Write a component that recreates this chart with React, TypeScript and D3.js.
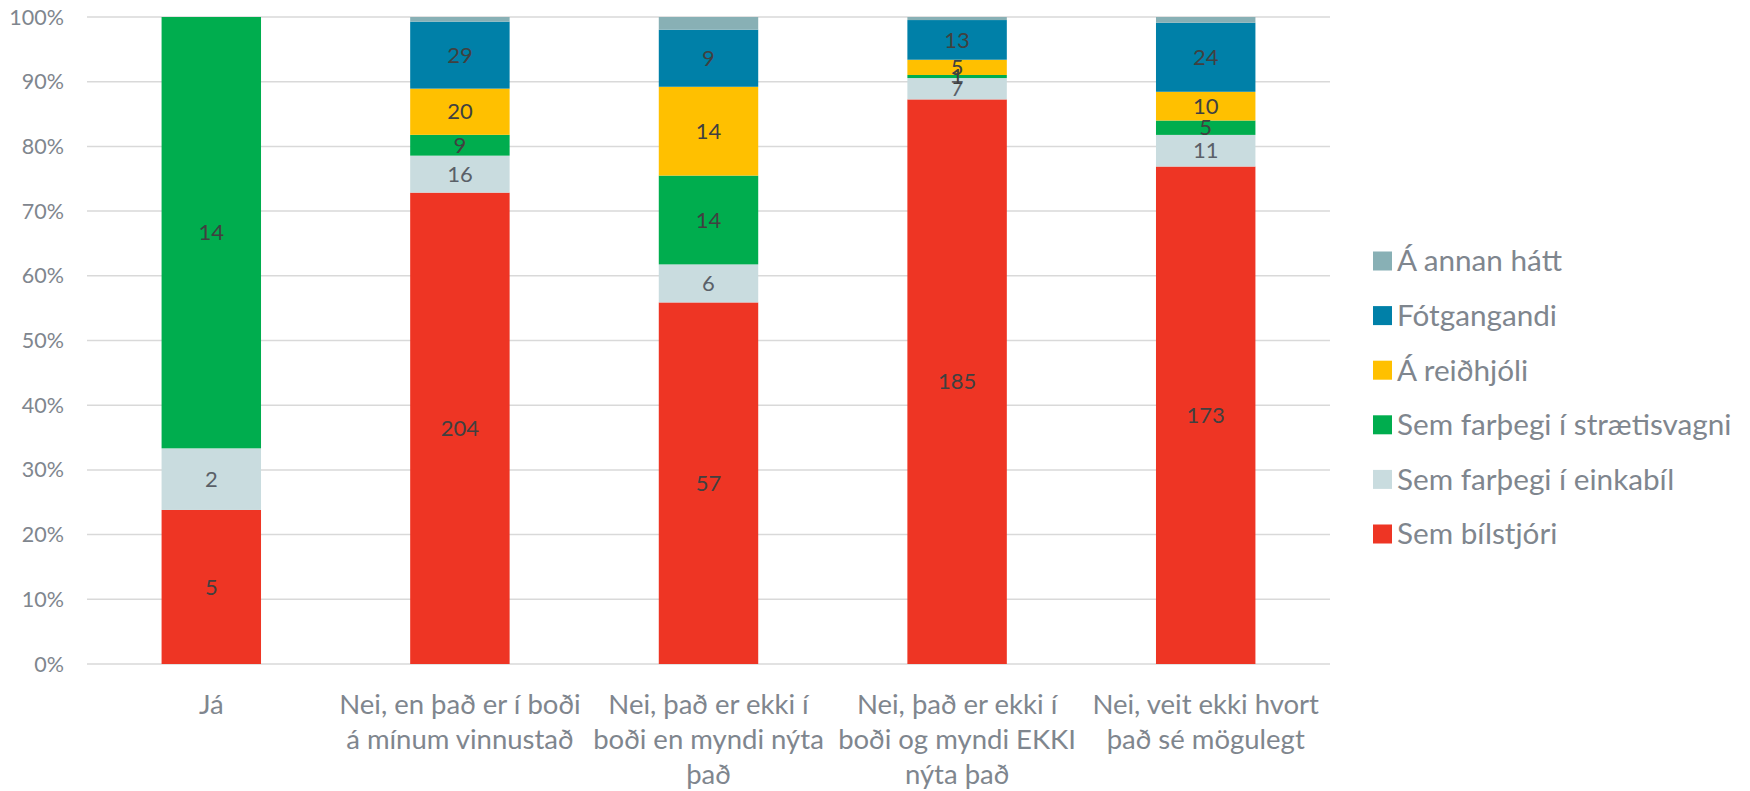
import React, { useEffect, useRef } from 'react';
import * as d3 from 'd3';

// categories (x axis) and their wrapped label lines
const categories = [
  'Já',
  'Nei, en það er í boði á mínum vinnustað',
  'Nei, það er ekki í boði en myndi nýta það',
  'Nei, það er ekki í boði og myndi EKKI nýta það',
  'Nei, veit ekki hvort það sé mögulegt',
];
const categoryLines = [
  ['Já'],
  ['Nei, en það er í boði', 'á mínum vinnustað'],
  ['Nei, það er ekki í', 'boði en myndi nýta', 'það'],
  ['Nei, það er ekki í', 'boði og myndi EKKI', 'nýta það'],
  ['Nei, veit ekki hvort', 'það sé mögulegt'],
];

// series, bottom of the stack first
const seriesNames = [
  'Sem bílstjóri',
  'Sem farþegi í einkabíl',
  'Sem farþegi í strætisvagni',
  'Á reiðhjóli',
  'Fótgangandi',
  'Á annan hátt',
];
const bilstjori = [5, 204, 57, 185, 173];
const einkabil = [2, 16, 6, 7, 11];
const straeto = [14, 9, 14, 1, 5];
const reidhjol = [0, 20, 14, 5, 10];
const fotgangandi = [0, 29, 9, 13, 24];
const annad = [0, 2, 2, 1, 2];
const seriesValues = [bilstjori, einkabil, straeto, reidhjol, fotgangandi, annad];
const seriesColors = ['#EE3524', '#C9DCDF', '#00AD4E', '#FFC000', '#0080A8', '#88B0B5'];
// the chart shows no value labels on "Á annan hátt"
const showLabels = [true, true, true, true, true, false];

const tickValues = [0, 0.1, 0.2, 0.3, 0.4, 0.5, 0.6, 0.7, 0.8, 0.9, 1];
const tickLabels = ['0%', '10%', '20%', '30%', '40%', '50%', '60%', '70%', '80%', '90%', '100%'];

const WIDTH = 1750;
const HEIGHT = 791;
const FONT = 'Lato, "Open Sans", sans-serif';

export default function App() {
  const ref = useRef<SVGSVGElement>(null);

  useEffect(() => {
    const svg = d3.select(ref.current);
    svg.selectAll('*').remove();

    const left = 87, right = 1330, top = 17, bottom = 664;

    const rows = categories.map((c, i) => {
      const r: any = { category: c };
      seriesNames.forEach((s, j) => (r[s] = seriesValues[j][i]));
      return r;
    });

    const stacked = d3.stack().keys(seriesNames).offset(d3.stackOffsetExpand)(rows);

    const x = d3.scaleBand().domain(categories).range([left, right]).paddingInner(0.6).paddingOuter(0.3);
    const y = d3.scaleLinear().domain([0, 1]).range([bottom, top]);

    // gridlines
    svg.append('g')
      .selectAll('line')
      .data(tickValues)
      .enter().append('line')
      .attr('x1', left).attr('x2', right)
      .attr('y1', d => y(d)).attr('y2', d => y(d))
      .attr('stroke', '#d9d9d9')
      .attr('stroke-width', 1.5);

    // y tick labels
    svg.append('g')
      .selectAll('text')
      .data(tickValues)
      .enter().append('text')
      .attr('x', 64)
      .attr('y', d => y(d))
      .attr('dy', '0.35em')
      .attr('text-anchor', 'end')
      .attr('font-family', FONT)
      .attr('font-size', 21.5)
      .attr('fill', '#7F868E')
      .text((d, i) => tickLabels[i]);

    // bars
    const layers = svg.append('g')
      .selectAll('g')
      .data(stacked)
      .enter().append('g')
      .attr('fill', (d, i) => seriesColors[i]);

    layers.selectAll('rect')
      .data(d => d.map((p, i) => ({ p, i })))
      .enter().append('rect')
      .attr('x', d => x(categories[d.i])!)
      .attr('width', x.bandwidth())
      .attr('y', d => y(d.p[1]))
      .attr('height', d => y(d.p[0]) - y(d.p[1]));

    // data labels
    stacked.forEach((layer, j) => {
      if (!showLabels[j]) return;
      svg.append('g')
        .selectAll('text')
        .data(layer.map((p, i) => ({ p, i, v: seriesValues[j][i] })).filter(d => d.v > 0))
        .enter().append('text')
        .attr('x', d => x(categories[d.i])! + x.bandwidth() / 2)
        .attr('y', d => y((d.p[0] + d.p[1]) / 2))
        .attr('dy', '0.35em')
        .attr('text-anchor', 'middle')
        .attr('font-family', FONT)
        .attr('font-size', 22)
        .attr('fill', j === 1 ? '#5a6068' : '#404040')
        .text(d => d.v);
    });

    // x labels
    const xl = svg.append('g')
      .selectAll('text')
      .data(categoryLines)
      .enter().append('text')
      .attr('text-anchor', 'middle')
      .attr('font-family', FONT)
      .attr('font-size', 27.5)
      .attr('fill', '#7F868E');
    xl.selectAll('tspan')
      .data((lines, i) => lines.map(l => ({ l, i })))
      .enter().append('tspan')
      .attr('x', d => x(categories[d.i])! + x.bandwidth() / 2)
      .attr('y', (d, k) => 714 + k * 35)
      .text(d => d.l);

    // legend, top entry is the last series
    const legendOrder = seriesNames.map((s, i) => i).reverse();
    const lg = svg.append('g')
      .selectAll('g')
      .data(legendOrder)
      .enter().append('g')
      .attr('transform', (d, k) => `translate(1373, ${261 + k * 54.6})`);
    lg.append('rect')
      .attr('x', 0).attr('y', -9.5)
      .attr('width', 19).attr('height', 19)
      .attr('fill', d => seriesColors[d]);
    lg.append('text')
      .attr('x', 24)
      .attr('dy', '0.35em')
      .attr('font-family', FONT)
      .attr('font-size', 29.7)
      .attr('fill', '#7F868E')
      .text(d => seriesNames[d]);
  }, []);

  return (
    <div style={{ position: 'absolute', left: 0, top: 0 }}>
      <svg ref={ref} width={WIDTH} height={HEIGHT} style={{ display: 'block', background: '#fff' }} />
    </div>
  );
}
